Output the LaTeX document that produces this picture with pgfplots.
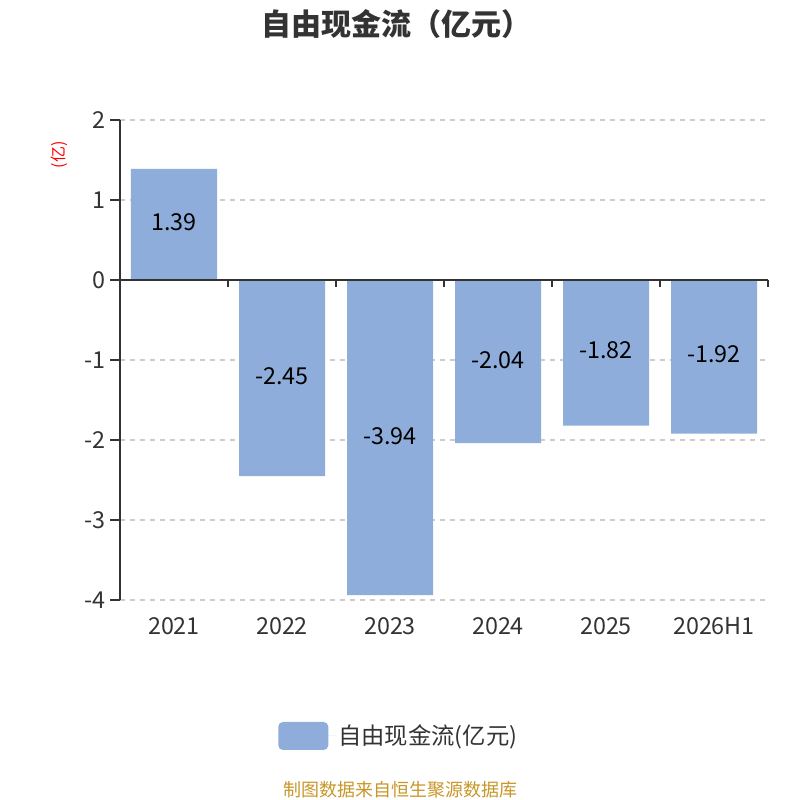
\documentclass[border=0pt]{standalone}
\usepackage{pgfplots}
\pgfplotsset{compat=1.18}
\usepackage{fontspec}
\setmainfont{Noto Sans CJK SC}
\definecolor{barcol}{RGB}{142,173,218}
\definecolor{txt}{RGB}{51,51,51}
\definecolor{gridc}{RGB}{204,204,204}
\definecolor{srcc}{RGB}{200,150,40}
\begin{document}
\begin{tikzpicture}[x=0.75pt,y=0.75pt]
\useasboundingbox (0,0) rectangle (800,800);
\node[font=\fontsize{22.5}{26}\selectfont\bfseries, text=txt] at (396,776) {自由现金流（亿元）};
\node[font=\fontsize{13.5}{16}\selectfont, text=srcc] at (400,10) {制图数据来自恒生聚源数据库};
\node[font=\fontsize{12}{14}\selectfont, text=red, rotate=90] at (59,645) {(亿)};
\begin{axis}[
  at={(90pt,150pt)}, anchor=south west,
  scale only axis, width=486pt, height=360pt,
  xmin=-0.5, xmax=5.5, ymin=-4, ymax=2,
  axis y line*=left, axis x line*=bottom,
  x axis line style={draw=none},
  y axis line style={color=txt, line width=1.2pt},
  xtick={0,1,2,3,4,5},
  xticklabels={2021,2022,2023,2024,2025,2026H1},
  xtick style={draw=none},
  xticklabel style={yshift=-2pt},
  ytick={-4,-3,-2,-1,0,1,2},
  ytick style={color=txt, line width=1.2pt},
  tick align=outside,
  major tick length=7.5pt,
  ymajorgrids,
  grid style={gridc, line width=0.9pt, dash pattern=on 4pt off 3.5pt},
  ticklabel style={font=\fontsize{17.5}{20}\selectfont, text=txt},
  /pgf/number format/assume math mode=true,
  legend style={at={(0.4308,-0.2833)}, anchor=center, draw=none, fill=none,
    font=\fontsize{17.5}{20}\selectfont, text=txt, cells={anchor=west}},
  legend image code/.code={\fill[barcol, rounded corners=3.5pt] (0pt,-10.5pt) rectangle (37.5pt,10.5pt); \path (0pt,0pt) -- (43pt,0pt);},
  clip=false,
]
\addplot[ybar, bar width=64.5pt, fill=barcol, draw=none] coordinates {
  (0,1.39) (1,-2.45) (2,-3.94) (3,-2.04) (4,-1.82) (5,-1.92)
};
\addlegendentry{自由现金流(亿元)}
\addplot[draw=none, mark=none, forget plot, nodes near coords, point meta=explicit symbolic,
  every node near coord/.style={anchor=center, font=\fontsize{17.5}{20}\selectfont, text=black}]
  coordinates {
  (0,0.72)[1.39] (1,-1.2)[-2.45] (2,-1.95)[-3.94] (3,-1.0)[-2.04] (4,-0.88)[-1.82] (5,-0.93)[-1.92]
};
\draw[txt, line width=1.2pt] (axis cs:-0.5,0) -- (axis cs:5.5,0);
\pgfplotsinvokeforeach{0.5,1.5,2.5,3.5,4.5,5.5}{
  \draw[txt, line width=1.2pt] (axis cs:#1,0) -- ++(0pt,-5pt);
}
\end{axis}
\end{tikzpicture}
\end{document}
